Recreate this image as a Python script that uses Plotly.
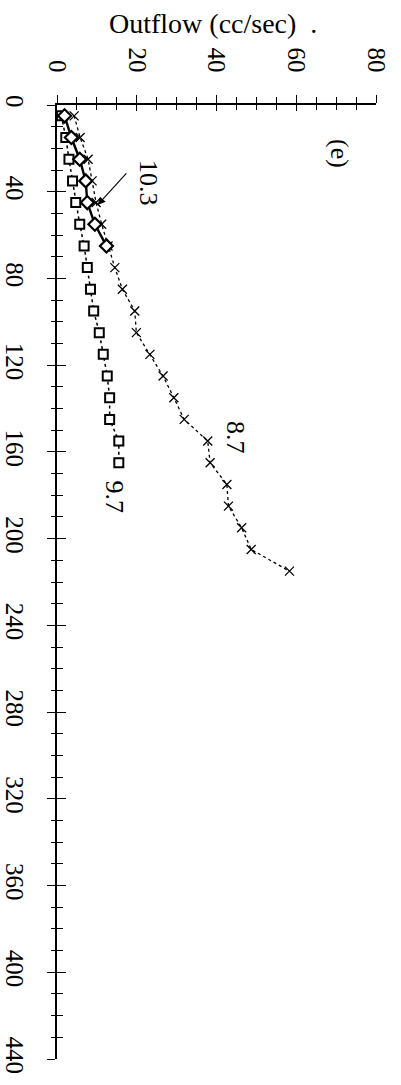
import plotly.graph_objects as go

# Elapsed time (sec) and outflow (cc/sec) for the three runs
time_103 = [5, 15, 25, 35, 45, 55, 65]
flow_103 = [1.9, 3.6, 5.7, 7.2, 7.6, 9.5, 12.4]

time_97 = [5, 15, 25, 35, 45, 55, 65, 75, 85, 95, 105, 115, 125, 135, 145, 155, 165]
flow_97 = [1.1, 2.2, 3.0, 3.9, 4.7, 5.7, 6.8, 7.6, 8.4, 9.2, 10.6, 11.6, 12.6, 13.2, 13.2, 15.5, 15.5]

time_87 = [5, 15, 25, 35, 45, 55, 65, 75, 85, 95, 105, 115, 125, 135, 145,
           155, 165, 175, 185, 195, 205, 215]
flow_87 = [4.3, 5.8, 7.8, 8.8, 9.8, 11.2, 12.8, 14.5, 16.4, 19.5, 19.9, 23.3, 26.6, 29.3, 31.9,
           37.8, 38.4, 42.6, 43.0, 46.3, 48.7, 58.3]

flow_ticks = [0, 20, 40, 60, 80]
time_ticks = [0, 40, 80, 120, 160, 200, 240, 280, 320, 360, 400, 440]

FONT = "Liberation Serif"
INK = "black"

fig = go.Figure()

fig.add_trace(go.Scatter(
    x=flow_87, y=time_87, mode="lines+markers",
    line=dict(color=INK, width=1.3, dash="dot"),
    marker=dict(symbol="x-thin", size=9, line=dict(color=INK, width=1.3)),
    showlegend=False))

fig.add_trace(go.Scatter(
    x=flow_97, y=time_97, mode="lines+markers",
    line=dict(color=INK, width=1.5, dash="dot"),
    marker=dict(symbol="square", size=9, color="white", line=dict(color=INK, width=2)),
    showlegend=False))

fig.add_trace(go.Scatter(
    x=flow_103, y=time_103, mode="lines+markers",
    line=dict(color=INK, width=2.4),
    marker=dict(symbol="diamond", size=10, color="white", line=dict(color=INK, width=2.2)),
    showlegend=False))

# empty trace carrying the overlay axes used for the inward half of each tick
fig.add_trace(go.Scatter(x=[None], y=[None], xaxis="x2", yaxis="y2",
                         showlegend=False, hoverinfo="skip"))

tick_font = dict(family=FONT, size=25, color=INK)

fig.update_layout(
    width=401, height=1085,
    margin=dict(l=57, r=25, t=105, b=26, autoexpand=False),
    paper_bgcolor="white", plot_bgcolor="white",
    xaxis=dict(
        side="top", range=[0, 80], tickvals=flow_ticks, ticktext=[str(v) for v in flow_ticks],
        tickangle=90, tickfont=tick_font, showgrid=False, zeroline=False, automargin=False,
        showline=True, linecolor=INK, linewidth=1.5,
        ticks="outside", ticklen=8, tickwidth=1.3, tickcolor=INK,
        ticklabelstandoff=14,
        minor=dict(dtick=5, ticks="outside", ticklen=6, tickwidth=1.1, tickcolor=INK, showgrid=False),
    ),
    yaxis=dict(
        range=[440, 0], tickvals=time_ticks, ticktext=[str(v) for v in time_ticks],
        tickangle=90, tickfont=tick_font, showgrid=False, zeroline=False, automargin=False,
        showline=True, linecolor=INK, linewidth=1.5,
        ticks="outside", ticklen=8, tickwidth=1.3, tickcolor=INK,
        ticklabelstandoff=11,
        minor=dict(dtick=10, ticks="outside", ticklen=4, tickwidth=1.1, tickcolor=INK, showgrid=False),
    ),
    xaxis2=dict(
        overlaying="x", anchor="y2", side="top", range=[0, 80], dtick=20, automargin=False,
        showticklabels=False, showgrid=False, zeroline=False, showline=False,
        ticks="inside", ticklen=6, tickwidth=1.3, tickcolor=INK,
        minor=dict(dtick=5, ticks="inside", ticklen=5, tickwidth=1.1, tickcolor=INK, showgrid=False),
    ),
    yaxis2=dict(
        overlaying="y", anchor="x2", side="left", range=[440, 0], dtick=40, automargin=False,
        showticklabels=False, showgrid=False, zeroline=False, showline=False,
        ticks="inside", ticklen=9, tickwidth=1.3, tickcolor=INK,
        minor=dict(dtick=10, ticks="inside", ticklen=6, tickwidth=1.1, tickcolor=INK, showgrid=False),
    ),
)

label_font = dict(family=FONT, size=26, color=INK)

annotations = [
    dict(text="Outflow (cc/sec)\u00a0\u00a0.", xref="paper", yref="paper", x=0.49, y=1.0,
         yshift=82, xanchor="center", yanchor="middle", showarrow=False,
         font=dict(family=FONT, size=28, color=INK)),
    dict(text="10.3", x=22.9, y=36.1, textangle=90, showarrow=False, font=label_font),
    dict(text="8.7", x=44.6, y=153.5, textangle=90, showarrow=False, font=label_font),
    dict(text="9.7", x=14.5, y=181.0, textangle=90, showarrow=False, font=label_font),
    dict(text="(e)", x=70.8, y=22.3, textangle=90, showarrow=False, font=label_font),
    # pointer from the 10.3 label to its curve
    dict(text="", x=10.2, y=46.1, ax=30, ay=-33, showarrow=True,
         arrowhead=2, arrowsize=1.4, arrowwidth=1.1, arrowcolor=INK),
]
fig.update_layout(annotations=annotations)

fig.write_html("out.html")
